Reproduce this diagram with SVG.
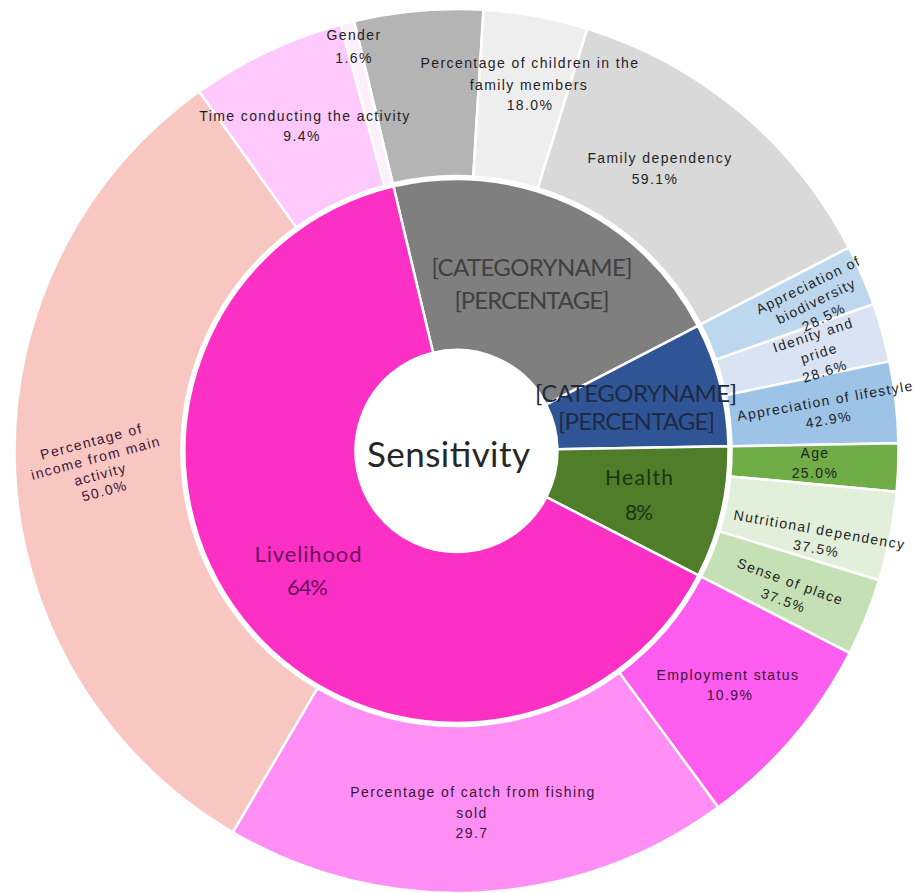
<svg xmlns="http://www.w3.org/2000/svg" width="917" height="893" viewBox="0 0 917 893">
<style>
.seg{stroke:#ffffff;stroke-width:2.5;stroke-linejoin:round}
.lbl{font-family:"Liberation Sans",Arial,sans-serif;font-size:14px;letter-spacing:1.4px;text-anchor:middle;fill:#1f1f1f}
.pk{fill:#3d1538}
.big{font-family:Lato,"Open Sans",sans-serif;text-anchor:middle}
</style>
<rect x="0" y="0" width="917" height="893" fill="#ffffff"/>
<g id="inner-ring">
<path id="gray-category" class="seg" fill="#7f7f7f" d="M 433.09 352.75 L 393.46 186.40 A 272 272 0 0 1 697.99 325.82 L 546.17 404.52 A 101 101 0 0 0 433.09 352.75 Z"/>
<path id="blue-category" class="seg" fill="#2f5597" d="M 546.17 404.52 L 697.99 325.82 A 272 272 0 0 1 728.46 446.25 L 557.48 449.24 A 101 101 0 0 0 546.17 404.52 Z"/>
<path id="health" class="seg" fill="#507d2a" d="M 557.48 449.24 L 728.46 446.25 A 272 272 0 0 1 698.42 575.33 L 546.33 497.17 A 101 101 0 0 0 557.48 449.24 Z"/>
<path id="livelihood" class="seg" fill="#fd30c6" d="M 546.33 497.17 L 698.42 575.33 A 272 272 0 1 1 393.46 186.40 L 433.09 352.75 A 101 101 0 1 0 546.33 497.17 Z"/>
</g>
<g id="outer-ring">
<path id="gray-sub" class="seg" fill="#b4b4b4" d="M 392.77 183.49 L 354.07 21.03 A 442 442 0 0 1 483.48 9.83 L 473.29 176.51 A 275 275 0 0 0 392.77 183.49 Z"/>
<path id="children" class="seg" fill="#eeeeee" d="M 473.29 176.51 L 483.48 9.83 A 442 442 0 0 1 587.20 28.77 L 537.82 188.30 A 275 275 0 0 0 473.29 176.51 Z"/>
<path id="family-dependency" class="seg" fill="#d9d9d9" d="M 537.82 188.30 L 587.20 28.77 A 442 442 0 0 1 848.92 247.59 L 700.65 324.44 A 275 275 0 0 0 537.82 188.30 Z"/>
<path id="biodiversity" class="seg" fill="#bdd7ee" d="M 700.65 324.44 L 848.92 247.59 A 442 442 0 0 1 873.42 304.18 L 715.89 359.65 A 275 275 0 0 0 700.65 324.44 Z"/>
<path id="identity" class="seg" fill="#dae3f3" d="M 715.89 359.65 L 873.42 304.18 A 442 442 0 0 1 889.31 361.37 L 725.79 395.23 A 275 275 0 0 0 715.89 359.65 Z"/>
<path id="lifestyle" class="seg" fill="#9dc3e6" d="M 725.79 395.23 L 889.31 361.37 A 442 442 0 0 1 898.43 443.29 L 731.46 446.20 A 275 275 0 0 0 725.79 395.23 Z"/>
<path id="age" class="seg" fill="#70ad47" d="M 731.46 446.20 L 898.43 443.29 A 442 442 0 0 1 896.61 491.83 L 730.32 476.40 A 275 275 0 0 0 731.46 446.20 Z"/>
<path id="nutritional" class="seg" fill="#e2efda" d="M 730.32 476.40 L 896.61 491.83 A 442 442 0 0 1 879.18 580.23 L 719.48 531.40 A 275 275 0 0 0 730.32 476.40 Z"/>
<path id="sense-of-place" class="seg" fill="#c5e0b4" d="M 719.48 531.40 L 879.18 580.23 A 442 442 0 0 1 849.63 653.03 L 701.09 576.70 A 275 275 0 0 0 719.48 531.40 Z"/>
<path id="employment" class="seg" fill="#ff5cf0" d="M 701.09 576.70 L 849.63 653.03 A 442 442 0 0 1 718.18 807.23 L 619.31 672.63 A 275 275 0 0 0 701.09 576.70 Z"/>
<path id="catch" class="seg" fill="#ff8ff5" d="M 619.31 672.63 L 718.18 807.23 A 442 442 0 0 1 232.83 832.24 L 317.34 688.20 A 275 275 0 0 0 619.31 672.63 Z"/>
<path id="income" class="seg" fill="#f9c7c2" d="M 317.34 688.20 L 232.83 832.24 A 442 442 0 0 1 199.20 91.60 L 296.41 227.39 A 275 275 0 0 0 317.34 688.20 Z"/>
<path id="time" class="seg" fill="#ffc9fd" d="M 296.41 227.39 L 199.20 91.60 A 442 442 0 0 1 340.61 24.46 L 384.40 185.62 A 275 275 0 0 0 296.41 227.39 Z"/>
<path id="gender" class="seg" fill="#fdf0fb" d="M 384.40 185.62 L 340.61 24.46 A 442 442 0 0 1 354.07 21.03 L 392.77 183.49 A 275 275 0 0 0 384.40 185.62 Z"/>
</g>
<g id="labels">
<g id="center-label"><text class="big" x="448.5" y="467" font-size="35" textLength="163" fill="#262626">Sensitivity</text></g>
<g id="gray-category-label">
<text class="big" x="532" y="276" font-size="24" textLength="201" fill="#404040">[CATEGORYNAME]</text>
<text class="big" x="532" y="309" font-size="24" textLength="155" fill="#404040">[PERCENTAGE]</text></g>
<g id="blue-category-label">
<text class="big" x="636" y="402" font-size="24" textLength="202" fill="#1f2a44">[CATEGORYNAME]</text>
<text class="big" x="636.5" y="430" font-size="24" textLength="157" fill="#1f2a44">[PERCENTAGE]</text></g>
<g id="health-label">
<text class="big" x="639" y="485" font-size="21" textLength="68" fill="#1b3510">Health</text>
<text class="big" x="639" y="520" font-size="21" textLength="28" fill="#1b3510">8%</text></g>
<g id="livelihood-label">
<text class="big" x="308" y="562" font-size="22" textLength="107" fill="#6b0f5c">Livelihood</text>
<text class="big" x="307.5" y="595" font-size="22" textLength="41" fill="#6b0f5c">64%</text></g>
<g id="gender-label">
<text class="lbl" x="354" y="40">Gender</text>
<text class="lbl" x="354" y="63">1.6%</text></g>
<g id="time-label">
<text class="lbl" x="305" y="121">Time conducting the activity</text>
<text class="lbl" x="302" y="141">9.4%</text></g>
<g id="children-label">
<text class="lbl" x="530" y="68">Percentage of children in the</text>
<text class="lbl" x="529" y="90">family members</text>
<text class="lbl" x="530" y="110">18.0%</text></g>
<g id="family-dependency-label">
<text class="lbl" x="660" y="163">Family dependency</text>
<text class="lbl" x="655" y="184">59.1%</text></g>
<g id="biodiversity-label" transform="translate(816,301) rotate(-26)">
<text class="lbl" x="0" y="-13">Appreciation of</text>
<text class="lbl" x="0" y="5">biodiversity</text>
<text class="lbl" x="0" y="23">28.5%</text></g>
<g id="identity-label" transform="translate(819,353) rotate(-18)">
<text class="lbl" x="0" y="-14">Idenity and</text>
<text class="lbl" x="0" y="5">pride</text>
<text class="lbl" x="0" y="24">28.6%</text></g>
<g id="lifestyle-label" transform="translate(827,410) rotate(-10)">
<text class="lbl" x="0" y="-4.5">Appreciation of lifestyle</text>
<text class="lbl" x="0" y="14.5">42.9%</text></g>
<g id="age-label">
<text class="lbl" x="815" y="458">Age</text>
<text class="lbl" x="815" y="478">25.0%</text></g>
<g id="nutritional-label" transform="translate(818,539) rotate(10)">
<text class="lbl" x="0" y="-4.5">Nutritional dependency</text>
<text class="lbl" x="0" y="14.5">37.5%</text></g>
<g id="sense-of-place-label" transform="translate(787,591) rotate(20)">
<text class="lbl" x="0" y="-5">Sense of place</text>
<text class="lbl" x="0" y="15">37.5%</text></g>
<g id="employment-label">
<text class="lbl pk" x="728" y="680">Employment status</text>
<text class="lbl pk" x="730" y="700">10.9%</text></g>
<g id="catch-label">
<text class="lbl pk" x="473" y="797">Percentage of catch from fishing</text>
<text class="lbl pk" x="472" y="818">sold</text>
<text class="lbl pk" x="472" y="838">29.7</text></g>
<g id="income-label" transform="translate(98,466) rotate(-15)">
<text class="lbl pk" x="0" y="-20.5">Percentage of</text>
<text class="lbl pk" x="0" y="-3.5">income from main</text>
<text class="lbl pk" x="0" y="13.5">activity</text>
<text class="lbl pk" x="0" y="30.5">50.0%</text></g>
</g>
</svg>
